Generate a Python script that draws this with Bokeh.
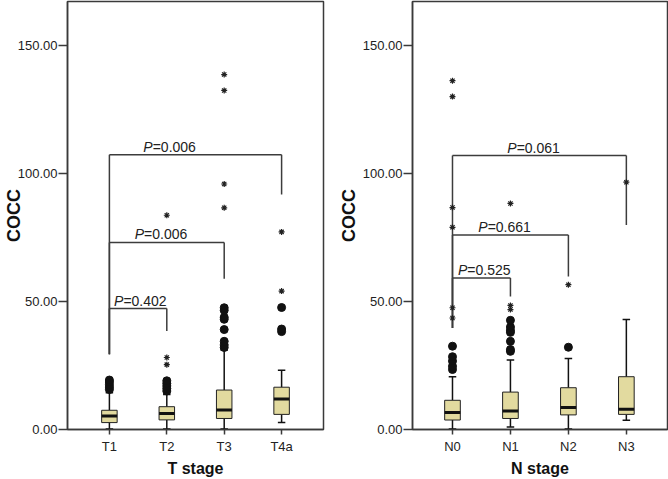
import numpy as np
from bokeh.plotting import figure
from bokeh.layouts import row
from bokeh.models import Range1d, FixedTicker, NumeralTickFormatter
from bokeh.embed import file_html
from bokeh.resources import INLINE
from bokeh.core.properties import value

# ---------------- T stage panel data ----------------
t_cats = ["T1", "T2", "T3", "T4a"]
t_q1 = [2.7, 3.75, 4.3, 5.9]
t_med = [5.3, 6.2, 7.6, 11.9]
t_q3 = [7.5, 8.9, 15.4, 16.5]
t_lo = [0.2, 0.2, 0.2, 2.7]
t_hi = [14.3, 13.7, 31.0, 23.1]
t_out_cat = ["T1"] * 5 + ["T2"] * 5 + ["T3"] * 8 + ["T4a"] * 3
t_out_val = [15.6, 16.5, 17.5, 18.5, 19.3,
             15.0, 16.0, 17.0, 18.0, 19.0,
             32.0, 33.0, 34.4, 39.0, 43.0, 43.8, 46.5, 47.5,
             38.2, 39.2, 47.6]
t_ext_cat = ["T2", "T2", "T2", "T3", "T3", "T3", "T3", "T4a", "T4a"]
t_ext_val = [25.3, 28.1, 83.6, 86.5, 95.8, 132.3, 138.5, 54.0, 77.1]
t_pairs = [("T1", "T2"), ("T1", "T3"), ("T1", "T4a")]
t_pvals = ["0.402", "0.006", "0.006"]
t_bracket_y = [47.2, 73.0, 107.2]
t_leg_left_low = 29.4
t_leg_right_low = [38.4, 58.8, 91.7]
t_label_pos = [1.54, 1.90, 2.05]

# ---------------- N stage panel data ----------------
n_cats = ["N0", "N1", "N2", "N3"]
n_q1 = [3.7, 4.3, 5.7, 5.9]
n_med = [6.6, 7.2, 8.6, 7.9]
n_q3 = [11.4, 14.6, 16.3, 20.6]
n_lo = [0.2, 1.0, 0.2, 3.6]
n_hi = [20.6, 27.1, 27.7, 42.9]
n_out_cat = ["N0"] * 5 + ["N1"] * 7 + ["N2"]
n_out_val = [23.4, 24.7, 26.7, 28.4, 32.5,
             30.5, 31.2, 34.4, 37.9, 38.7, 40.0, 42.6,
             32.1]
n_ext_cat = ["N0"] * 6 + ["N1"] * 3 + ["N2", "N3"]
n_ext_val = [43.5, 47.5, 78.9, 86.6, 129.9, 136.1, 46.8, 48.4, 88.2, 56.5, 96.5]
n_pairs = [("N0", "N1"), ("N0", "N2"), ("N0", "N3")]
n_pvals = ["0.525", "0.661", "0.061"]
n_bracket_y = [59.1, 75.9, 106.9]
n_leg_left_low = 39.6
n_leg_right_low = [51.9, 59.7, 79.8]
n_label_pos = [1.55, 1.90, 2.40]

y_ticks = [0, 50, 100, 150]

FONT = "Liberation Sans"
BOX_FILL = "#E2DA9F"
INK = "#111111"
FRAME = "#3a3a3a"


def panel(cats, q1, med, q3, lo, hi, out_cat, out_val, ext_cat, ext_val,
          pairs, pvals, by, left_low, right_low, label_pos, xlabel,
          width, border_left, border_right, xr, ylab_standoff):
    idx = {c: i + 1 for i, c in enumerate(cats)}
    xs = np.array([idx[c] for c in cats], dtype=float)
    p = figure(width=width, height=479, output_backend="svg", toolbar_location=None,
               x_range=Range1d(*xr), y_range=Range1d(0, 167),
               min_border_left=border_left, min_border_right=border_right,
               min_border_top=1, min_border_bottom=0)
    p.xgrid.visible = False
    p.ygrid.visible = False
    p.outline_line_color = FRAME
    p.outline_line_width = 1.5
    p.background_fill_color = "white"
    p.border_fill_color = "white"

    # brackets
    for (a, b), yv, rl in zip(pairs, by, right_low):
        xa, xb = idx[a], idx[b]
        p.segment(x0=[xa, xb, xa], y0=[yv, yv, yv], x1=[xb, xb, xa], y1=[yv, rl, left_low],
                  line_color="#3c3c3c", line_width=1.5)
    p.text(x=label_pos, y=by, text=["P"] * len(by), text_font=value(FONT),
           text_font_style="italic", text_font_size="14px", text_color="#222222",
           text_align="right", text_baseline="alphabetic", x_offset=-17, y_offset=-8)
    p.text(x=label_pos, y=by, text=["=" + v for v in pvals], text_font=value(FONT),
           text_font_size="14px", text_color="#222222",
           text_align="left", text_baseline="alphabetic", x_offset=-17, y_offset=-8)

    # whiskers
    p.segment(x0=xs, y0=q3, x1=xs, y1=hi, line_color=INK, line_width=1.5)
    p.segment(x0=xs, y0=lo, x1=xs, y1=q1, line_color=INK, line_width=1.5)
    cw = 0.065
    p.segment(x0=xs - cw, y0=hi, x1=xs + cw, y1=hi, line_color=INK, line_width=1.5)
    p.segment(x0=xs - cw, y0=lo, x1=xs + cw, y1=lo, line_color=INK, line_width=1.5)
    # boxes
    bw = 0.27
    p.vbar(x=xs, bottom=q1, top=q3, width=bw, fill_color=BOX_FILL,
           line_color="#222222", line_width=1)
    p.segment(x0=xs - bw / 2, y0=med, x1=xs + bw / 2, y1=med, line_color=INK, line_width=3)
    # outliers
    p.scatter(x=[idx[c] for c in out_cat], y=out_val, marker="circle", size=8,
              fill_color=INK, line_color=INK)
    p.scatter(x=[idx[c] for c in ext_cat], y=ext_val, marker="asterisk", size=6,
              line_color="#222222", line_width=1.2)

    # axes
    p.yaxis.ticker = FixedTicker(ticks=y_ticks)
    p.yaxis.formatter = NumeralTickFormatter(format="0.00")
    p.xaxis.ticker = FixedTicker(ticks=list(xs))
    p.xaxis.major_label_overrides = {float(i + 1): c for i, c in enumerate(cats)}
    p.yaxis.axis_label = "COCC"
    p.xaxis.axis_label = xlabel
    for ax in (p.xaxis[0], p.yaxis[0]):
        ax.axis_line_color = FRAME
        ax.axis_line_width = 1.5
        ax.major_tick_line_color = FRAME
        ax.major_tick_line_width = 1.5
        ax.minor_tick_line_color = None
        ax.major_tick_in = 0
        ax.major_label_text_font = FONT
        ax.major_label_text_font_size = "13px"
        ax.major_label_text_color = "#222222"
        ax.axis_label_text_font = FONT
        ax.axis_label_text_font_style = "bold"
        ax.axis_label_text_color = "#111111"
    p.yaxis.major_tick_out = 9
    p.yaxis.major_label_standoff = 1
    p.yaxis.axis_label_text_font_size = "18px"
    p.yaxis.axis_label_standoff = ylab_standoff
    p.xaxis.major_tick_out = 5
    p.xaxis.major_label_standoff = 4
    p.xaxis.axis_label_text_font_size = "16px"
    p.xaxis.axis_label_standoff = 3
    return p


p1 = panel(t_cats, t_q1, t_med, t_q3, t_lo, t_hi, t_out_cat, t_out_val,
           t_ext_cat, t_ext_val, t_pairs, t_pvals, t_bracket_y, t_leg_left_low,
           t_leg_right_low, t_label_pos, "T stage", 334, 66, 11, (0.27, 4.73), -9)
p2 = panel(n_cats, n_q1, n_med, n_q3, n_lo, n_hi, n_out_cat, n_out_val,
           n_ext_cat, n_ext_val, n_pairs, n_pvals, n_bracket_y, n_leg_left_low,
           n_leg_right_low, n_label_pos, "N stage", 334, 78, 1, (0.31, 4.71), 1)

layout = row(p1, p2)
open("out.html", "w").write(file_html(layout, INLINE))
